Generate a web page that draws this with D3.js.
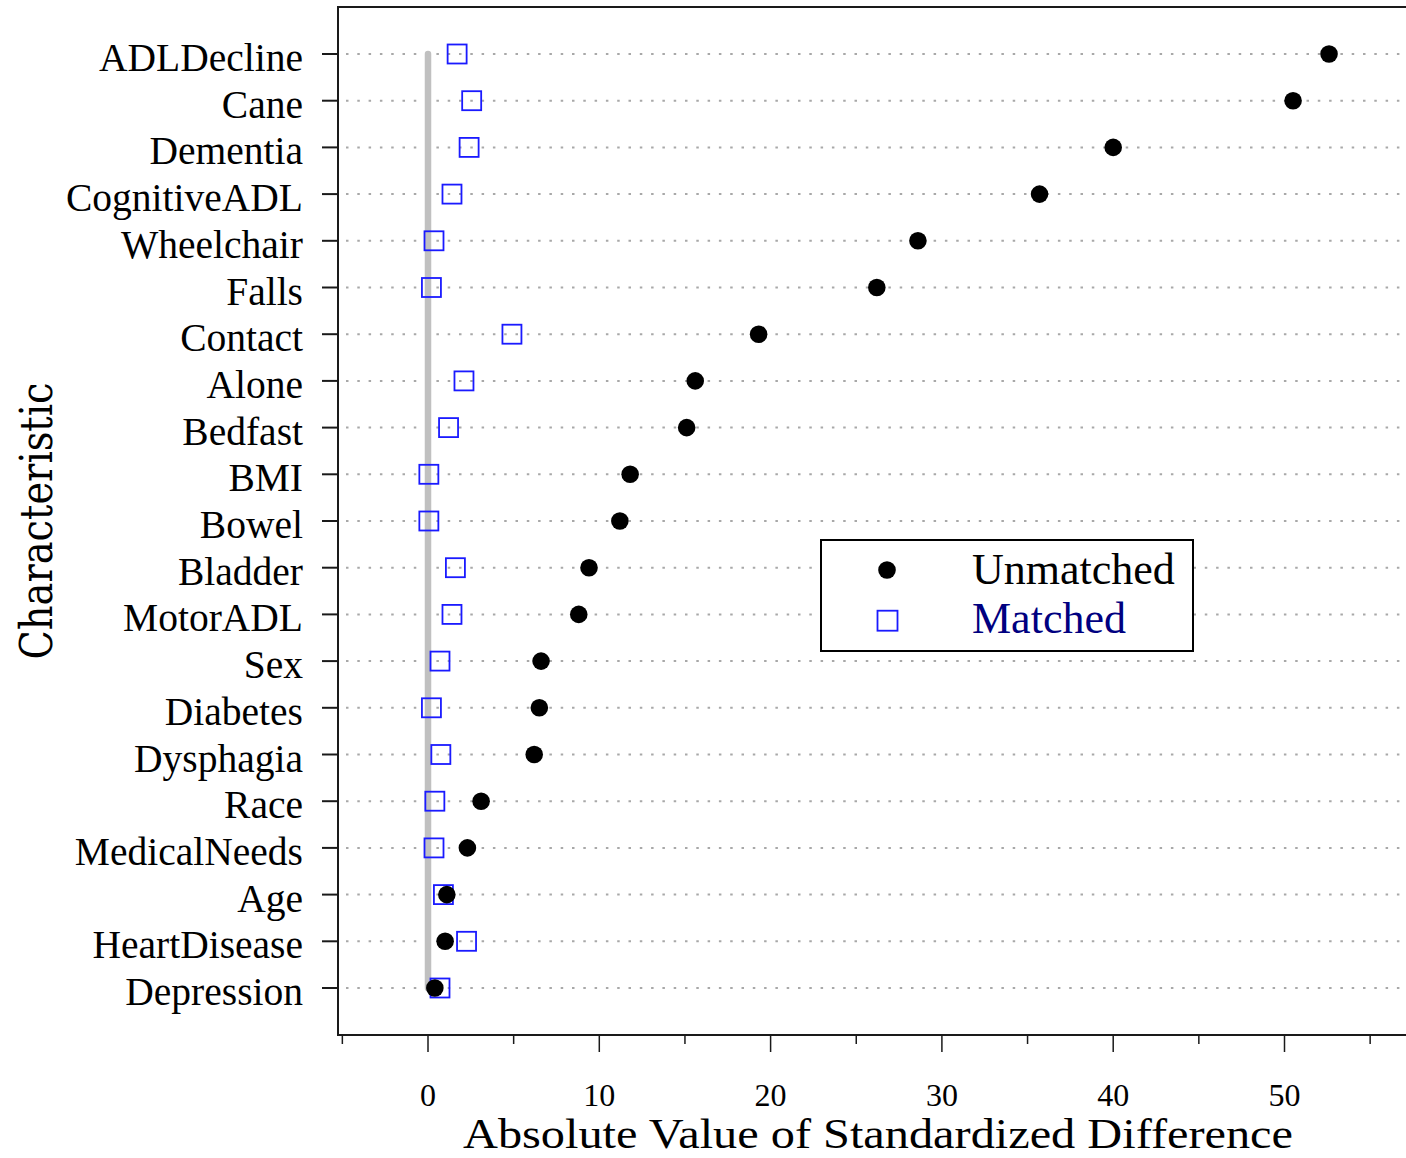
<!DOCTYPE html>
<html>
<head>
<meta charset="utf-8">
<script src="https://cdn.jsdelivr.net/npm/d3@7"></script>
<style>
  html, body { margin: 0; padding: 0; background: #fff; }
  svg { display: block; }
</style>
</head>
<body>
<svg id="chart" width="1406" height="1158"></svg>
<script>
const categories = ["ADLDecline","Cane","Dementia","CognitiveADL","Wheelchair","Falls","Contact","Alone","Bedfast","BMI","Bowel","Bladder","MotorADL","Sex","Diabetes","Dysphagia","Race","MedicalNeeds","Age","HeartDisease","Depression"];
const unmatched = [52.6,50.5,40.0,35.7,28.6,26.2,19.3,15.6,15.1,11.8,11.2,9.4,8.8,6.6,6.5,6.2,3.1,2.3,1.1,1.0,0.4];
const matched   = [1.7,2.55,2.4,1.4,0.35,0.2,4.9,2.1,1.2,0.05,0.05,1.6,1.4,0.7,0.2,0.75,0.4,0.35,0.9,2.25,0.7];
const majorTicks = [0,10,20,30,40,50];
const minorTicks = [-5,5,15,25,35,45,55];
const seriesNames = ["Unmatched","Matched"];

const svg = d3.select("#chart");
const frame = {left: 338, top: 7, bottom: 1035, right: 1420};
const x = d3.scaleLinear().domain([0, 50]).range([428, 1284.5]);
const y = d3.scalePoint().domain(categories).range([54, 988]);
const serif = "'Liberation Serif', 'Times New Roman', serif";

// gridlines
svg.append("g").selectAll("line").data(categories).join("line")
  .attr("x1", frame.left + 8).attr("x2", frame.right)
  .attr("y1", d => y(d)).attr("y2", d => y(d))
  .attr("stroke", "#a8a8a8").attr("stroke-width", 2)
  .attr("stroke-dasharray", "2.5,8.8");

// reference line at 0
svg.append("line")
  .attr("x1", x(0)).attr("x2", x(0))
  .attr("y1", y(categories[0])).attr("y2", y(categories[categories.length-1]))
  .attr("stroke", "#c0c0c0").attr("stroke-width", 6.5).attr("stroke-linecap", "round");

// frame
svg.append("path")
  .attr("d", `M${frame.right},${frame.top}H${frame.left}V${frame.bottom}H${frame.right}`)
  .attr("fill", "none").attr("stroke", "#1a1a1a").attr("stroke-width", 2);

// y ticks + labels
const yg = svg.append("g");
yg.selectAll("line").data(categories).join("line")
  .attr("x1", frame.left - 16).attr("x2", frame.left)
  .attr("y1", d => y(d)).attr("y2", d => y(d))
  .attr("stroke", "#1a1a1a").attr("stroke-width", 2);
yg.selectAll("text").data(categories).join("text")
  .attr("x", 303).attr("y", d => y(d) + 17)
  .attr("text-anchor", "end")
  .attr("font-family", serif).attr("font-size", 39.5)
  .attr("fill", "#000").text(d => d);

// x ticks
const xg = svg.append("g");
xg.selectAll("line.major").data(majorTicks).join("line").attr("class","major")
  .attr("x1", d => x(d)).attr("x2", d => x(d))
  .attr("y1", frame.bottom).attr("y2", frame.bottom + 17)
  .attr("stroke", "#1a1a1a").attr("stroke-width", 1.5);
xg.selectAll("line.minor").data(minorTicks).join("line").attr("class","minor")
  .attr("x1", d => x(d)).attr("x2", d => x(d))
  .attr("y1", frame.bottom).attr("y2", frame.bottom + 9)
  .attr("stroke", "#1a1a1a").attr("stroke-width", 1.5);
xg.selectAll("text").data(majorTicks).join("text")
  .attr("x", d => x(d)).attr("y", 1106)
  .attr("text-anchor", "middle")
  .attr("font-family", serif).attr("font-size", 32)
  .text(d => d);

// axis titles
svg.append("text")
  .attr("x", 878).attr("y", 1148)
  .attr("text-anchor", "middle")
  .attr("font-family", serif).attr("font-size", 43)
  .attr("textLength", 830).attr("lengthAdjust", "spacingAndGlyphs")
  .text("Absolute Value of Standardized Difference");
svg.append("text")
  .attr("transform", "translate(52,521) rotate(-90)")
  .attr("text-anchor", "middle")
  .attr("font-family", "'DejaVu Serif Condensed', 'DejaVu Serif', serif")
  .attr("font-stretch", "condensed").attr("font-size", 44)
  .attr("textLength", 277).attr("lengthAdjust", "spacingAndGlyphs")
  .text("Characteristic");

// matched squares
const sq = 19;
svg.append("g").selectAll("rect").data(categories).join("rect")
  .attr("x", (d,i) => x(matched[i]) - sq/2)
  .attr("y", d => y(d) - sq/2)
  .attr("width", sq).attr("height", sq)
  .attr("fill", "none").attr("stroke", "#1a1aff").attr("stroke-width", 1.8);

// unmatched circles
svg.append("g").selectAll("circle").data(categories).join("circle")
  .attr("cx", (d,i) => x(unmatched[i]))
  .attr("cy", d => y(d))
  .attr("r", 8.8).attr("fill", "#000");

// legend
const lg = svg.append("g");
lg.append("rect").attr("x", 821).attr("y", 540).attr("width", 372).attr("height", 111)
  .attr("fill", "#fff").attr("stroke", "#000").attr("stroke-width", 2);
lg.append("circle").attr("cx", 887).attr("cy", 570).attr("r", 8.8).attr("fill", "#000");
lg.append("rect").attr("x", 887.5 - 10).attr("y", 620.7 - 10).attr("width", 20).attr("height", 20)
  .attr("fill", "none").attr("stroke", "#1a1aff").attr("stroke-width", 1.8);
lg.append("text").attr("x", 972).attr("y", 584)
  .attr("font-family", serif).attr("font-size", 44).attr("fill", "#000").text(seriesNames[0]);
lg.append("text").attr("x", 972).attr("y", 633)
  .attr("font-family", serif).attr("font-size", 44).attr("fill", "#000080").text(seriesNames[1]);
</script>
</body>
</html>
